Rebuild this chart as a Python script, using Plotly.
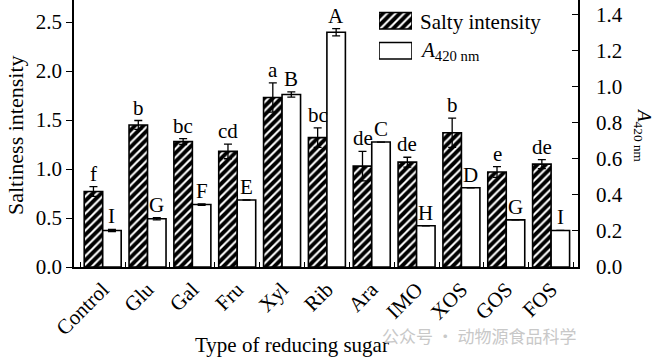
import plotly.graph_objects as go

categories = ["Control", "Glu", "Gal", "Fru", "Xyl", "Rib", "Ara", "IMO", "XOS", "GOS", "FOS"]
salty = [0.77, 1.45, 1.28, 1.18, 1.73, 1.32, 1.03, 1.07, 1.37, 0.97, 1.05]
salty_err = [0.05, 0.045, 0.03, 0.075, 0.15, 0.10, 0.15, 0.05, 0.15, 0.055, 0.045]
salty_letters = ["f", "b", "bc", "cd", "a", "bc", "de", "de", "b", "e", "de"]
a420 = [0.203, 0.268, 0.347, 0.372, 0.958, 1.304, 0.694, 0.229, 0.44, 0.262, 0.203]
a420_err = [0.006, 0.006, 0.004, 0.0, 0.015, 0.02, 0.0, 0.0, 0.0, 0.0, 0.0]
a420_letters = ["I", "G", "F", "E", "B", "A", "C", "H", "D", "G", "I"]
left_ticks = [0.0, 0.5, 1.0, 1.5, 2.0, 2.5]
right_ticks = [0.0, 0.2, 0.4, 0.6, 0.8, 1.0, 1.2, 1.4]
legend_names = ["Salty intensity", "<i>A</i><sub>420 nm</sub>"]

FONT = "Liberation Serif"
W, H = 660, 361
ML, MR, MT, MB = 74, 82, 0, 94
PW = W - ML - MR
PH = H - MT - MB

hatch = dict(shape="/", size=6, solidity=0.65, fgcolor="black", bgcolor="white", fgopacity=1)

fig = go.Figure()
fig.add_trace(go.Bar(
    x=categories, y=salty, name="Salty intensity", offsetgroup="s",
    marker=dict(color="white", line=dict(color="black", width=1.6), pattern=hatch),
    error_y=dict(type="data", array=salty_err, color="black", thickness=1.3, width=4),
    yaxis="y", showlegend=False))
fig.add_trace(go.Bar(
    x=categories, y=a420, name="A420", offsetgroup="a",
    marker=dict(color="white", line=dict(color="black", width=1.6)),
    error_y=dict(type="data", array=a420_err, color="black", thickness=1.3, width=4),
    yaxis="y2", showlegend=False))

# legend swatches on an overlay axis
fig.add_trace(go.Bar(
    y=[1, 0], x=[1, 1], orientation="h", width=0.55,
    marker=dict(color="white", line=dict(color="black", width=1.6),
                pattern=dict(shape=["/", ""], size=6, solidity=0.65, fgcolor="black",
                             bgcolor="white", fgopacity=1)),
    xaxis="x3", yaxis="y3", showlegend=False, hoverinfo="skip"))

half = 9.2
ann = []
for c, v, e, t in zip(categories, salty, salty_err, salty_letters):
    ann.append(dict(x=c, y=v + e, xref="x", yref="y", text=t, showarrow=False,
                    yanchor="bottom", xshift=-half, yshift=-1,
                    font=dict(family=FONT, size=21, color="black")))
for c, v, e, t in zip(categories, a420, a420_err, a420_letters):
    ann.append(dict(x=c, y=v + e, xref="x", yref="y2", text=t, showarrow=False,
                    yanchor="bottom", xshift=half, yshift=-1,
                    font=dict(family=FONT, size=21, color="black")))

def px(xp):
    return (xp - ML) / PW

def py(yp):
    return (H - MB - yp) / PH

# legend labels
for name, yc in zip(legend_names, [22, 51]):
    ann.append(dict(x=px(418), y=py(yc), xref="paper", yref="paper", text=name,
                    showarrow=False, xanchor="left", yanchor="middle",
                    font=dict(family=FONT, size=21, color="black")))
# axis titles
ann.append(dict(x=px(15), y=py(135), xref="paper", yref="paper", text="Saltiness intensity",
                textangle=-90, showarrow=False, xanchor="center", yanchor="middle",
                font=dict(family=FONT, size=22, color="black")))
ann.append(dict(x=px(643), y=py(135), xref="paper", yref="paper", text="<i>A</i><sub>420 nm</sub>",
                textangle=90, showarrow=False, xanchor="center", yanchor="middle",
                font=dict(family=FONT, size=19, color="black")))
ann.append(dict(x=px(292), y=py(345), xref="paper", yref="paper", text="Type of reducing sugar",
                showarrow=False, xanchor="center", yanchor="middle",
                font=dict(family=FONT, size=21, color="black")))
# watermark
ann.append(dict(x=px(380), y=py(335), xref="paper", yref="paper", text="公众号 · 动物源食品科学",
                showarrow=False, xanchor="left", yanchor="middle",
                font=dict(family="Noto Sans CJK SC", size=17, color="#c8c8c8")))

fig.update_layout(
    width=W, height=H, margin=dict(l=ML, r=MR, t=MT, b=MB, pad=0, autoexpand=False),
    paper_bgcolor="white", plot_bgcolor="white",
    barmode="group", bargap=0.175, bargroupgap=0,
    font=dict(family=FONT, size=21, color="black"),
    xaxis=dict(type="category", range=[-0.64, 10.6], tickangle=-45, automargin=False,
               showline=True, linecolor="black", linewidth=1.8,
               ticks="inside", ticklen=5, tickwidth=1.2, tickcolor="black",
               tickson="boundaries", showgrid=False, zeroline=False,
               tickfont=dict(family=FONT, size=21)),
    yaxis=dict(range=[0, 2.725], tickvals=left_ticks, ticktext=[f"{v:.1f}" for v in left_ticks],
               automargin=False,
               showline=True, linecolor="black", linewidth=1.8,
               ticks="outside", ticklen=6, tickwidth=1.2, tickcolor="black",
               showgrid=False, zeroline=False, tickfont=dict(family=FONT, size=21)),
    yaxis2=dict(range=[0, 1.483], tickvals=right_ticks, ticktext=[f"{v:.1f}" for v in right_ticks],
                overlaying="y", side="right", anchor="x", automargin=False,
                showline=True, linecolor="black", linewidth=1.8,
                ticks="inside", ticklen=6, tickwidth=1.2, tickcolor="black",
                ticklabelstandoff=12,
                showgrid=False, zeroline=False, tickfont=dict(family=FONT, size=21)),
    xaxis3=dict(domain=[px(379), px(412)], range=[0, 1], anchor="y3", automargin=False,
                visible=False, showgrid=False, zeroline=False),
    yaxis3=dict(domain=[py(62.8), py(8.8)], range=[-0.4, 1.4], anchor="x3", automargin=False,
                visible=False, showgrid=False, zeroline=False),
    annotations=ann,
)

fig.write_html("out.html", config={"displayModeBar": False},
               post_script="document.body.style.margin='0';document.body.style.padding='0';")
